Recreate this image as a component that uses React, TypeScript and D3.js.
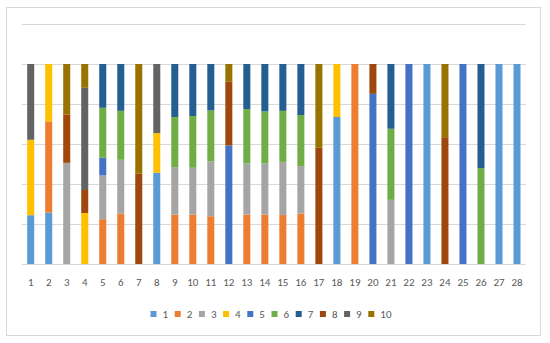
import React from "react";
import * as d3 from "d3";

const categories = Array.from({ length: 28 }, (_, i) => String(i + 1));
const seriesNames = ["1", "2", "3", "4", "5", "6", "7", "8", "9", "10"];
const colors = ["#5B9BD5", "#ED7D31", "#A5A5A5", "#FFC000", "#4472C4", "#70AD47", "#255E91", "#9E480E", "#636363", "#997300"];

const s1 = [24.4, 25.7, 0, 0, 0, 0, 0, 45.6, 0, 0, 0, 0, 0, 0, 0, 0, 0, 73.5, 0, 0, 0, 0, 100, 0, 0, 0, 100, 100];
const s2 = [0, 45.6, 0, 0, 22.4, 25.2, 0, 0, 24.7, 24.7, 23.9, 0, 24.7, 24.7, 24.5, 25.2, 0, 0, 100, 0, 0, 0, 0, 0, 0, 0, 0, 0];
const s3 = [0, 0, 50.6, 0, 21.9, 26.9, 0, 0, 23.7, 23.4, 27.4, 0, 25.5, 25.5, 26.5, 23.7, 0, 0, 0, 0, 32.1, 0, 0, 0, 0, 0, 0, 0];
const s4 = [37.7, 28.7, 0, 25.5, 0, 0, 0, 19.9, 0, 0, 0, 0, 0, 0, 0, 0, 0, 26.5, 0, 0, 0, 0, 0, 0, 0, 0, 0, 0];
const s5 = [0, 0, 0, 0, 8.8, 0, 0, 0, 0, 0, 0, 59.3, 0, 0, 0, 0, 0, 0, 0, 85.1, 0, 100, 0, 0, 100, 0, 0, 0];
const s6 = [0, 0, 0, 0, 25, 24.5, 0, 0, 25, 25.9, 25.5, 0, 27.2, 26, 25.5, 25.5, 0, 0, 0, 0, 35.6, 0, 0, 0, 0, 47.9, 0, 0];
const s7 = [0, 0, 0, 0, 21.9, 23.4, 0, 0, 26.5, 26, 23.2, 0, 22.5, 23.7, 23.4, 25.5, 0, 0, 0, 0, 32.4, 0, 0, 0, 0, 52.1, 0, 0];
const s8 = [0, 0, 24.2, 11.5, 0, 0, 45.1, 0, 0, 0, 0, 32.1, 0, 0, 0, 0, 58.1, 0, 0, 14.9, 0, 0, 0, 63.4, 0, 0, 0, 0];
const s9 = [37.9, 0, 0, 51.1, 0, 0, 0, 34.6, 0, 0, 0, 0, 0, 0, 0, 0, 0, 0, 0, 0, 0, 0, 0, 0, 0, 0, 0, 0];
const s10 = [0, 0, 25.2, 11.9, 0, 0, 54.9, 0, 0, 0, 0, 8.7, 0, 0, 0, 0, 41.9, 0, 0, 0, 0, 0, 0, 36.6, 0, 0, 0, 0];
const allSeries = [s1, s2, s3, s4, s5, s6, s7, s8, s9, s10];
const yTicks = [0.2, 0.4, 0.6, 0.8, 1.0, 1.2];

export default function App() {
  const W = 550, H = 343;
  const x = d3.scaleBand<string>().domain(categories).range([21.7, 526]).paddingInner(0.61).paddingOuter(0.305);
  const y = d3.scaleLinear().domain([0, 1.2]).range([264, 24]);
  const table = categories.map((c, i) => {
    const row: any = { cat: c };
    seriesNames.forEach((s, j) => (row[s] = allSeries[j][i]));
    return row;
  });
  const stacked = d3.stack<any>().keys(seriesNames).offset(d3.stackOffsetExpand)(table);
  const legendX = d3.scaleBand<string>().domain(seriesNames).range([150.5, 392.5]);
  const font = "Carlito, 'Liberation Sans', Arial, sans-serif";

  return (
    <svg width={W} height={H} style={{ position: "absolute", left: 0, top: 0, background: "#fff" }} fontFamily={font}>
      <rect x={6.5} y={7.5} width={534} height={328} fill="#fff" stroke="#D9D9D9" />
      {yTicks.map((t) => (
        <line key={t} x1={21.7} x2={526} y1={Math.round(y(t)) + 0.5} y2={Math.round(y(t)) + 0.5} stroke="#D9D9D9" />
      ))}
      {stacked.map((layer, j) => (
        <g key={layer.key} fill={colors[j]}>
          {layer.map((d, i) =>
            d[1] - d[0] > 0 ? (
              <rect key={i} x={x(categories[i])} width={x.bandwidth()} y={y(d[1])} height={y(d[0]) - y(d[1])} />
            ) : null
          )}
        </g>
      ))}
      <line x1={21.7} x2={526} y1={264.5} y2={264.5} stroke="#D9D9D9" />
      {categories.map((c) => (
        <text key={c} x={(x(c) as number) + x.bandwidth() / 2} y={282} textAnchor="middle" dominantBaseline="central" fontSize={11} fill="#595959">
          {c}
        </text>
      ))}
      {seriesNames.map((s, j) => (
        <g key={s} transform={`translate(${legendX(s)},314)`}>
          <rect x={0} y={-3} width={6} height={6} fill={colors[j]} />
          <text x={12} y={0} dominantBaseline="central" fontSize={11} fill="#595959">
            {s}
          </text>
        </g>
      ))}
    </svg>
  );
}
